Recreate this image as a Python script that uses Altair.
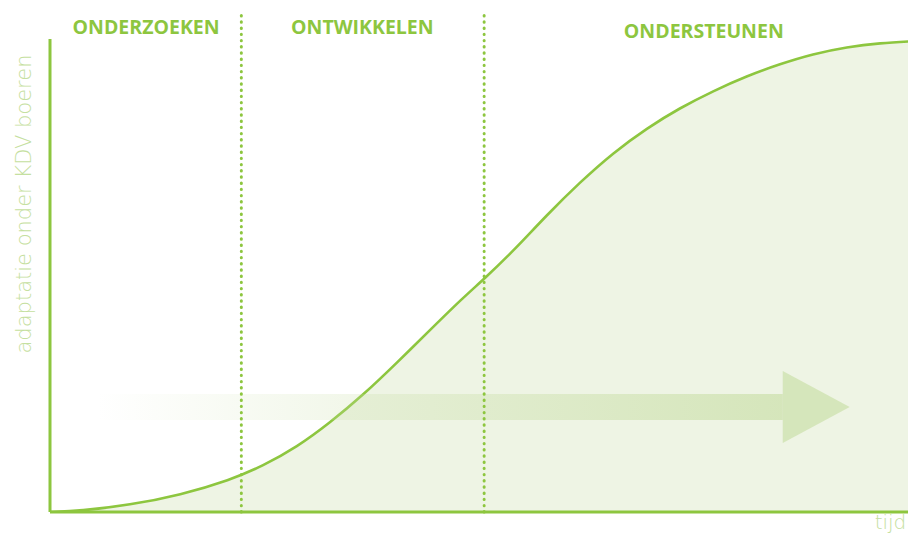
import altair as alt
import pandas as pd

# ---- data ----
curve_t = [0, 3.5, 9.3, 15.2, 21.0, 24.8, 28.8, 32.6, 36.5, 40.4, 44.3, 48.1, 50.6,
           54.0, 57.9, 61.8, 65.6, 69.6, 73.4, 77.3, 81.2, 85.1, 88.9, 92.9, 96.7, 100.9]
curve_v = [0, 0.2, 1.4, 3.4, 6.4, 9.2, 13.0, 17.8, 23.4, 29.8, 36.4, 42.8, 46.6,
           52.2, 59.4, 66.0, 71.8, 76.8, 80.8, 84.2, 87.2, 89.6, 91.6, 93.0, 93.8, 94.2]

phase_labels = ["ONDERZOEKEN", "ONTWIKKELEN", "ONDERSTEUNEN"]
phase_label_t = [11.2, 36.4, 76.2]
phase_label_v = [96.9, 96.9, 96.1]
phase_bounds = [22.3, 50.6]

arrow_shaft = {"t0": 5.5, "t1": 85.4, "v0": 18.4, "v1": 23.6}
arrow_head_t = [85.4, 93.2]
arrow_head_top = [28.2, 21.0]
arrow_head_bottom = [13.8, 21.0]

y_title = "adaptatie onder KDV boeren"
x_title = "tijd"

GREEN = "#8DC63F"
FILL = "#EEF4E4"
LIGHT = "#C5E0A0"
LIGHT_FONT = "DejaVu Sans"

xs = alt.Scale(domain=[0, 100], nice=False, zero=False)
ys = alt.Scale(domain=[0, 100], nice=False, zero=False)

curve_df = pd.DataFrame({"t": curve_t, "v": curve_v})

area = alt.Chart(curve_df).mark_area(color=FILL, clip=True, interpolate="basis").encode(
    x=alt.X("t:Q", scale=xs, axis=None),
    y=alt.Y("v:Q", scale=ys, axis=None),
)
line = alt.Chart(curve_df).mark_line(color=GREEN, strokeWidth=2.6, clip=True, interpolate="basis").encode(
    x=alt.X("t:Q", scale=xs, axis=None),
    y=alt.Y("v:Q", scale=ys, axis=None),
)

shaft_df = pd.DataFrame([arrow_shaft])
shaft = alt.Chart(shaft_df).mark_rect(
    color=alt.Gradient(
        gradient="linear",
        stops=[
            alt.GradientStop(color="rgba(200,222,165,0)", offset=0),
            alt.GradientStop(color="rgba(200,222,165,0.65)", offset=1),
        ],
        x1=0, x2=1, y1=0, y2=0,
    )
).encode(
    x=alt.X("t0:Q", scale=xs, axis=None), x2="t1:Q",
    y=alt.Y("v0:Q", scale=ys, axis=None), y2="v1:Q",
)

head_df = pd.DataFrame({"t": arrow_head_t, "top": arrow_head_top, "bottom": arrow_head_bottom})
head = alt.Chart(head_df).mark_area(color="rgba(200,222,165,0.65)").encode(
    x=alt.X("t:Q", scale=xs, axis=None),
    y=alt.Y("top:Q", scale=ys, axis=None),
    y2="bottom:Q",
)

bounds_df = pd.DataFrame({"t": phase_bounds, "v0": [0, 0], "v1": [100, 100]})
bounds = alt.Chart(bounds_df).mark_rule(
    color=GREEN, strokeWidth=3, strokeCap="round", strokeDash=[0.4, 5.8]
).encode(
    x=alt.X("t:Q", scale=xs, axis=None),
    y=alt.Y("v0:Q", scale=ys, axis=None), y2="v1:Q",
)

axes_df = pd.DataFrame({"t0": [0, 0], "t1": [0, 101], "v0": [0, 0], "v1": [94.6, 0]})
axes = alt.Chart(axes_df).mark_rule(color=GREEN, strokeWidth=3, clip=False).encode(
    x=alt.X("t0:Q", scale=xs, axis=None), x2="t1:Q",
    y=alt.Y("v0:Q", scale=ys, axis=None), y2="v1:Q",
)

labels_df = pd.DataFrame({"label": phase_labels, "t": phase_label_t, "v": phase_label_v})
labels = alt.Chart(labels_df).mark_text(
    font="Open Sans", fontSize=19.5, fontWeight="bold", color=GREEN,
    align="center", baseline="middle",
).encode(
    x=alt.X("t:Q", scale=xs, axis=None),
    y=alt.Y("v:Q", scale=ys, axis=None),
    text="label:N",
)

ytitle_df = pd.DataFrame({"label": [y_title], "t": [-2.9], "v": [61.6]})
ytitle = alt.Chart(ytitle_df).mark_text(
    font=LIGHT_FONT, fontSize=21, fontWeight=200, color=LIGHT,
    align="center", baseline="middle", angle=270,
).encode(
    x=alt.X("t:Q", scale=xs, axis=None),
    y=alt.Y("v:Q", scale=ys, axis=None),
    text="label:N",
)

xtitle_df = pd.DataFrame({"label": [x_title], "t": [99.8], "v": [-3.3]})
xtitle = alt.Chart(xtitle_df).mark_text(
    font=LIGHT_FONT, fontSize=20, fontWeight=200, color=LIGHT,
    align="right", baseline="alphabetic",
).encode(
    x=alt.X("t:Q", scale=xs, axis=None),
    y=alt.Y("v:Q", scale=ys, axis=None),
    text="label:N",
)

chart = alt.layer(area, line, shaft, head, bounds, axes, labels, ytitle, xtitle).properties(
    width=858, height=500,
    autosize=alt.AutoSizeParams(type="none"),
    padding={"left": 42, "top": 4, "right": 0, "bottom": 25},
).configure_view(stroke=None)

chart.save("out.html", embed_options={"renderer": "svg", "actions": False})
